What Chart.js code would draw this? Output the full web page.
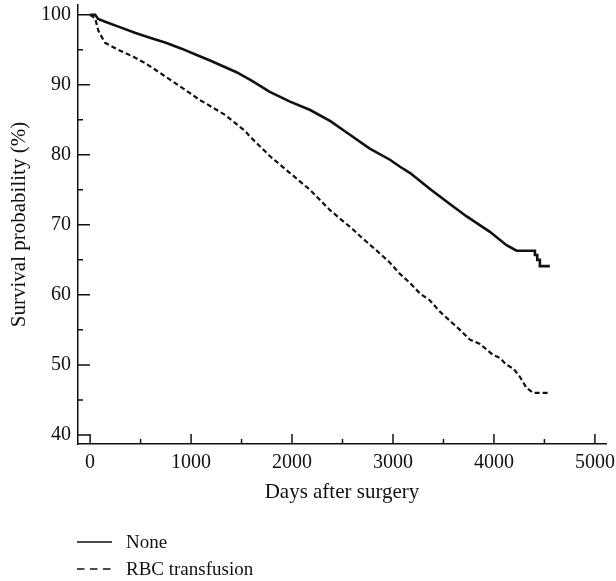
<!DOCTYPE html>
<html>
<head>
<meta charset="utf-8">
<script src="https://cdn.jsdelivr.net/npm/chart.js@4.4.0/dist/chart.umd.min.js"></script>
<style>
    body { margin: 0; background: #fff; }
    .wrap { position: relative; width: 616px; height: 581px; }
    .legend { position: absolute; left: 77px; top: 528px; font-family: 'Liberation Serif', serif; font-size: 19px; color: #111; }
    .legend div { display: flex; align-items: center; height: 27px; }
    .legend svg { margin-right: 14px; }
</style>
</head>
<body>
<div class="wrap">
    <canvas id="survivalChart" width="616" height="581"></canvas>
    <div class="legend" id="legend"></div>
</div>
<script>
// Dados (Kaplan-Meier)
const noneDays = [0, 50, 80, 150, 300, 450, 600, 750, 900, 1050, 1200, 1450, 1600, 1780, 1980, 2180, 2380, 2570, 2770, 2970, 3070, 3170, 3370, 3570, 3730, 3960, 4125, 4224, 4406, 4406, 4429, 4429, 4455, 4455, 4554];
const noneSurv = [100, 100, 99.4, 99.0, 98.2, 97.4, 96.7, 96.0, 95.2, 94.3, 93.4, 91.8, 90.6, 89.0, 87.6, 86.4, 84.8, 82.9, 80.9, 79.3, 78.3, 77.4, 75.1, 72.9, 71.2, 69.0, 67.1, 66.3, 66.3, 65.7, 65.7, 65.0, 65.0, 64.1, 64.1];

const rbcDays = [0, 50, 82, 132, 149, 280, 429, 545, 693, 743, 941, 1089, 1139, 1337, 1535, 1584, 1733, 1782, 1980, 2178, 2376, 2607, 2673, 2871, 2970, 3069, 3168, 3267, 3366, 3465, 3663, 3762, 3861, 3993, 4059, 4125, 4191, 4257, 4323, 4389, 4554];
const rbcSurv = [100, 99.5, 97.7, 96.4, 96.0, 95.0, 94.0, 93.1, 91.7, 91.2, 89.3, 87.8, 87.4, 85.7, 83.4, 82.6, 80.5, 79.8, 77.4, 75.0, 72.1, 69.3, 68.4, 65.9, 64.6, 63.0, 61.7, 60.2, 59.2, 57.6, 55.0, 53.6, 53.0, 51.4, 51.0, 50.0, 49.5, 48.3, 46.7, 46.0, 46.0];

const xTicks = [0, 1000, 2000, 3000, 4000, 5000];
const xMinorTicks = [500, 1500, 2500, 3500, 4500];
const yTicks = [40, 50, 60, 70, 80, 90, 100];
const yMinorTicks = [45, 55, 65, 75, 85, 95];

const seriesNames = ['None', 'RBC transfusion'];

const ink = '#111';
const serif = "'Liberation Serif', 'Times New Roman', serif";

// Ticks para dentro do gráfico
const innerTicks = {
    id: 'innerTicks',
    afterDraw(chart) {
        const { ctx, chartArea, scales } = chart;
        ctx.save();
        ctx.strokeStyle = ink;
        ctx.lineWidth = 1.5;
        ctx.beginPath();
        xTicks.forEach(v => {
            const x = scales.x.getPixelForValue(v);
            ctx.moveTo(x, chartArea.bottom);
            ctx.lineTo(x, chartArea.bottom - 10);
        });
        xMinorTicks.forEach(v => {
            const x = scales.x.getPixelForValue(v);
            ctx.moveTo(x, chartArea.bottom);
            ctx.lineTo(x, chartArea.bottom - 5);
        });
        yTicks.forEach(v => {
            const y = scales.y.getPixelForValue(v);
            ctx.moveTo(chartArea.left, y);
            ctx.lineTo(chartArea.left + 12, y);
        });
        yMinorTicks.forEach(v => {
            const y = scales.y.getPixelForValue(v);
            ctx.moveTo(chartArea.left, y);
            ctx.lineTo(chartArea.left + 5, y);
        });
        ctx.stroke();
        ctx.restore();
    }
};

const ctx = document.getElementById('survivalChart').getContext('2d');
const survivalChart = new Chart(ctx, {
    type: 'line',
    data: {
        datasets: [{
            label: seriesNames[0],
            data: noneDays.map((d, i) => ({ x: d, y: noneSurv[i] })),
            borderColor: ink,
            borderWidth: 2.6,
            pointRadius: 0,
            tension: 0,
            fill: false
        }, {
            label: seriesNames[1],
            data: rbcDays.map((d, i) => ({ x: d, y: rbcSurv[i] })),
            borderColor: ink,
            borderWidth: 2.2,
            borderDash: [5, 3],
            pointRadius: 0,
            tension: 0,
            fill: false
        }]
    },
    options: {
        responsive: false,
        animation: false,
        layout: { padding: { top: 5, right: 10, left: 0, bottom: 0 } },
        plugins: {
            legend: { display: false },
            tooltip: { enabled: false }
        },
        scales: {
            x: {
                type: 'linear',
                min: -120,
                max: 5110,
                afterBuildTicks: (scale) => { scale.ticks = xTicks.map(v => ({ value: v })); },
                afterFit: (scale) => {
                    scale.height = 137;
                    scale.paddingLeft = 0;
                    scale.paddingRight = 0;
                },
                grid: { display: false, drawTicks: false },
                border: { display: true, color: ink, width: 1.5 },
                ticks: {
                    color: ink,
                    padding: 7,
                    maxRotation: 0,
                    callback: (v) => String(v),
                    font: { family: serif, size: 20 }
                },
                title: {
                    display: true,
                    text: 'Days after surgery',
                    color: ink,
                    padding: { bottom: 76 },
                    font: { family: serif, size: 21 }
                }
            },
            y: {
                type: 'linear',
                min: 38.7,
                max: 101.4,
                afterBuildTicks: (scale) => { scale.ticks = yTicks.map(v => ({ value: v })); },
                afterFit: (scale) => {
                    scale.width = 78;
                    scale.paddingTop = 0;
                    scale.paddingBottom = 0;
                },
                grid: { display: false, drawTicks: false },
                border: { display: true, color: ink, width: 1.5 },
                ticks: {
                    color: ink,
                    padding: 7,
                    callback: (v) => String(v),
                    font: { family: serif, size: 20 }
                },
                title: {
                    display: true,
                    text: 'Survival probability (%)',
                    color: ink,
                    padding: { top: 7 },
                    font: { family: serif, size: 21 }
                }
            }
        }
    },
    plugins: [innerTicks]
});

// Legenda em HTML
const legendEl = document.getElementById('legend');
const legendDash = ['', '7.5 5.5'];
seriesNames.forEach((name, i) => {
    const row = document.createElement('div');
    row.innerHTML = '<svg width="35" height="4"><line x1="0" y1="2" x2="35" y2="2" stroke="' + ink + '" stroke-width="1.3"' +
        (legendDash[i] ? ' stroke-dasharray="' + legendDash[i] + '"' : '') + '/></svg><span>' + name + '</span>';
    legendEl.appendChild(row);
});
</script>
</body>
</html>
